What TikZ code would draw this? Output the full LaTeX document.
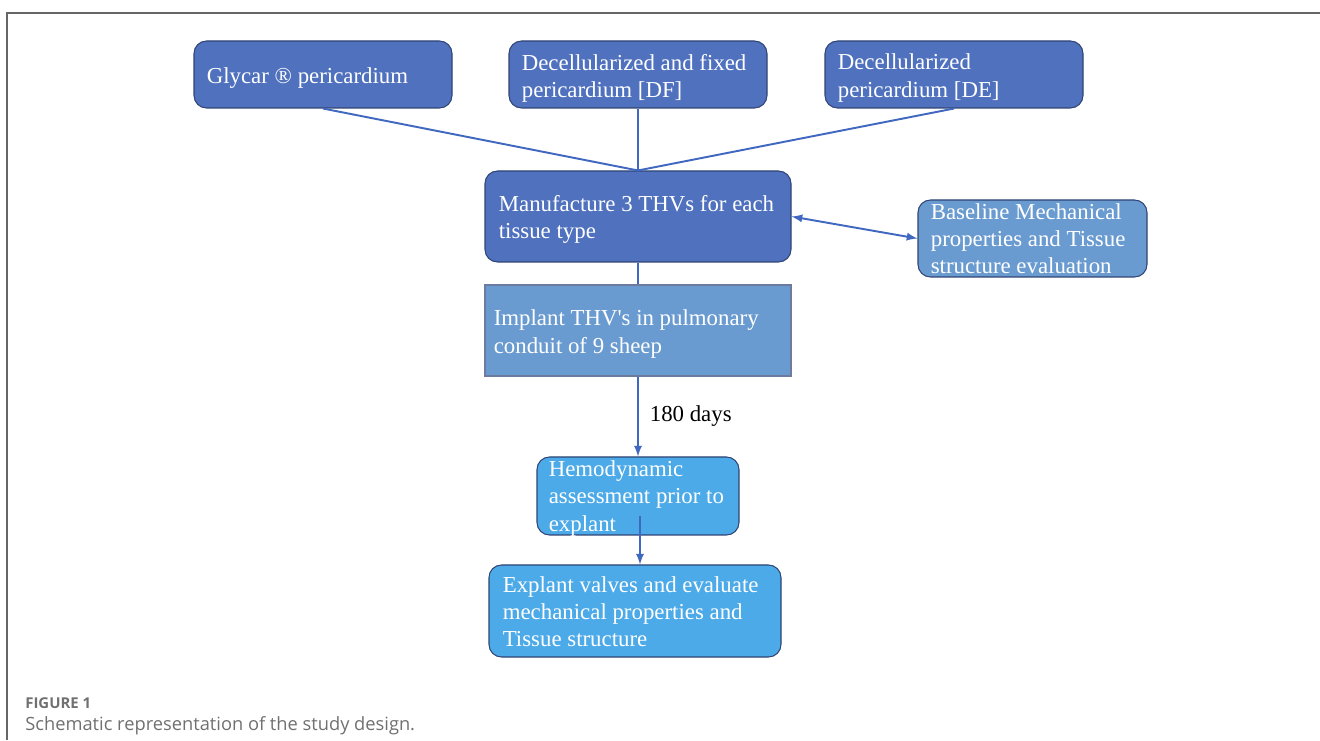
\documentclass[tikz,border=0pt]{standalone}
\usepackage{fontspec}
\setmainfont{Liberation Serif}[Ligatures=TeXOff]
\newfontfamily\capfont{Open Sans}
\usetikzlibrary{arrows}
\usepackage{xcolor}

\definecolor{darkblue}{HTML}{4F71BE}
\definecolor{midblue}{HTML}{6A9BD0}
\definecolor{skyblue}{HTML}{4DAAE8}
\definecolor{boxline}{HTML}{2F4474}
\definecolor{linkblue}{HTML}{4168C0}
\definecolor{framegray}{HTML}{666666}
\definecolor{capgray}{HTML}{707070}

\tikzset{
  box/.style={draw=boxline, line width=0.6pt, rounded corners=0.25cm, inner sep=0pt},
  txt/.style={anchor=west, align=left, text=white, inner sep=0pt,
              font=\fontsize{13}{15.4}\selectfont},
  conn/.style={draw=linkblue, line width=1.1pt},
}

\begin{document}
\begin{tikzpicture}
\useasboundingbox (0,0) rectangle (26.4,14.8);
% frame
\draw [framegray, line width=0.8pt] (26.4,14.54) -- (0.14,14.54) -- (0.14,0);

% tissue types
\node [box, fill=darkblue, minimum width=5.16cm, minimum height=1.34cm] (glycar) at (6.46,13.31) {};
\node [box, fill=darkblue, minimum width=5.16cm, minimum height=1.34cm] (df) at (12.76,13.31) {};
\node [box, fill=darkblue, minimum width=5.16cm, minimum height=1.34cm] (de) at (19.08,13.31) {};
\node [txt] (glycar-t) at ([xshift=0.26cm,yshift=-0.08cm]glycar.west) {Glycar ® pericardium};
\node [txt] (df-t) at ([xshift=0.26cm,yshift=-0.07cm]df.west) {Decellularized and fixed\\pericardium [DF]};
\node [txt] (de-t) at ([xshift=0.26cm,yshift=-0.07cm]de.west) {Decellularized\\pericardium [DE]};

% manufacture and baseline
\node [box, fill=darkblue, minimum width=6.12cm, minimum height=1.82cm] (manu) at (12.76,10.47) {};
\node [txt] (manu-t) at ([xshift=0.28cm,yshift=-0.06cm]manu.west) {Manufacture 3 THVs for each\\tissue type};
\node [box, fill=midblue, minimum width=4.58cm, minimum height=1.54cm] (base) at (20.65,10.03) {};
\node [txt] (base-t) at ([xshift=0.26cm]base.west) {Baseline Mechanical\\properties and Tissue\\structure evaluation};

% implant
\node [box, rounded corners=0pt, draw=boxline!70, fill=midblue, minimum width=6.12cm, minimum height=1.82cm] (impl) at (12.76,8.19) {};
\node [txt] (impl-t) at ([xshift=0.18cm,yshift=-0.07cm]impl.west) {Implant THV's in pulmonary\\conduit of 9 sheep};

% follow up
\node [box, fill=skyblue, minimum width=4.04cm, minimum height=1.56cm] (hemo) at (12.76,4.88) {};
\node [txt] (hemo-t) at ([xshift=0.24cm,yshift=-0.05cm]hemo.west) {Hemodynamic\\assessment prior to\\explant};
\node [box, fill=skyblue, minimum width=5.84cm, minimum height=1.84cm] (expl) at (12.70,2.58) {};
\node [txt] (expl-t) at ([xshift=0.28cm,yshift=-0.02cm]expl.west) {Explant valves and evaluate\\mechanical properties and\\Tissue structure};

% connectors
\draw [conn] (glycar.south) -- (manu.north);
\draw [conn] (df.south) -- (manu.north);
\draw [conn] (de.south) -- (manu.north);
\draw [conn] (manu.south) -- (impl.north);
\draw [conn, latex-latex] (manu.east) -- (base.west);
\draw [conn, -latex] (impl.south) -- (hemo.north)
  node [midway, right=0.1cm, text=black, font=\fontsize{13}{15.4}\selectfont] (days) {180 days};
\coordinate (h2e) at ([xshift=0.04cm,yshift=-0.4cm]hemo.center);
\draw [conn, -latex] (h2e) -- (h2e |- expl.north);

% caption
\node [anchor=west, inner sep=0pt, text=capgray, font=\capfont\bfseries\fontsize{8.5}{10}\selectfont] (fig) at (0.5,0.74) {FIGURE 1};
\node [anchor=west, inner sep=0pt, text=capgray, font=\capfont\fontsize{10.4}{12}\selectfont] (cap) at (0.5,0.28) {Schematic representation of the study design.};
\end{tikzpicture}
\end{document}
